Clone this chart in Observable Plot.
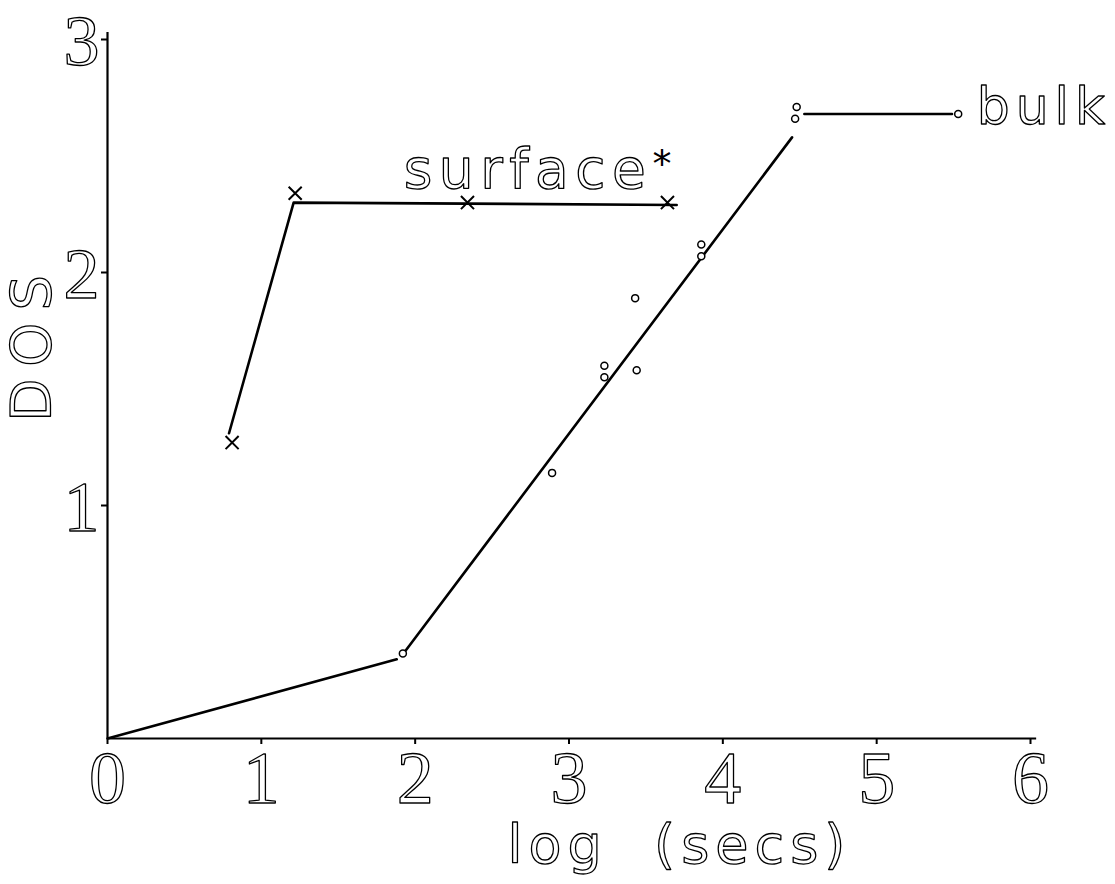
<!DOCTYPE html>
<html><head><meta charset="utf-8">
<script src="https://cdn.jsdelivr.net/npm/d3@7"></script>
<script src="https://cdn.jsdelivr.net/npm/@observablehq/plot@0.6"></script>
<style>body{margin:0;background:#fff}</style>
</head><body><div id="chart"></div>
<script>
// Axis ticks
const xTicks = [0, 1, 2, 3, 4, 5, 6];
const yTicks = [1, 2, 3];

// "surface" series (polyline and its cross markers)
const surfaceLineX = [0.79, 1.21, 3.70];
const surfaceLineY = [1.31, 2.30, 2.29];
const surfaceMarkX = [0.81, 1.22, 2.34, 3.64];
const surfaceMarkY = [1.27, 2.34, 2.30, 2.30];

// "bulk" fitted lines (three segments)
const bulkLineX   = [0, 1.88, 1.93, 4.45, 4.53, 5.49];
const bulkLineY   = [0, 0.34, 0.37, 2.58, 2.68, 2.68];
const bulkLineSeg = [1, 1, 2, 2, 3, 3];

// "bulk" measured points (open circles)
const bulkPtX = [1.92, 2.89, 3.23, 3.23, 3.44, 3.43, 3.86, 3.86, 4.48, 4.47, 5.53];
const bulkPtY = [0.365, 1.14, 1.60, 1.55, 1.58, 1.89, 2.12, 2.07, 2.71, 2.66, 2.68];

const surfaceLine = surfaceLineX.map((x, i) => ({x, y: surfaceLineY[i]}));
const surfaceMarks = surfaceMarkX.map((x, i) => ({x, y: surfaceMarkY[i]}));
const bulkLine = bulkLineX.map((x, i) => ({x, y: bulkLineY[i], s: bulkLineSeg[i]}));
const bulkPts = bulkPtX.map((x, i) => ({x, y: bulkPtY[i]}));

const hollow = {fill: "none", stroke: "black", strokeWidth: 1.3};

const chart = Plot.plot({
  width: 1115, height: 884,
  marginLeft: 107, marginRight: 85, marginTop: 39, marginBottom: 146,
  x: {domain: [0, 6], axis: null},
  y: {domain: [0, 3], axis: null},
  style: {background: "white", overflow: "visible"},
  marks: [
    Plot.ruleY([0], {x1: 0, x2: 6.04, strokeWidth: 2.2}),
    Plot.ruleX([0], {y1: 0, y2: 3.03, strokeWidth: 2.2}),
    Plot.axisX(xTicks, {tickSize: 6, tickFormat: () => "", strokeWidth: 2, label: null}),
    Plot.axisY(yTicks, {tickSize: 6, tickFormat: () => "", strokeWidth: 2, label: null}),
    Plot.text(xTicks, {x: d => d, y: 0, dy: 41, text: d => String(d), fontSize: 74, fontFamily: "Liberation Serif", ...hollow}),
    Plot.text(yTicks, {x: 0, y: d => d, dx: -8, dy: 2, textAnchor: "end", text: d => String(d), fontSize: 72, fontFamily: "Liberation Serif", ...hollow}),
    Plot.text(["DOS"], {x: -0.49, y: 1.70, rotate: -90, text: d => d, fontSize: 56, fontFamily: "DejaVu Sans", ...hollow}),
    Plot.text(["log  (secs)"], {x: 2.6, y: -0.46, textAnchor: "start", text: d => d, fontSize: 54, fontFamily: "DejaVu Sans", ...hollow}),
    Plot.text(["surface*"], {x: 1.925, y: 2.44, textAnchor: "start", text: d => d, fontSize: 55, fontFamily: "DejaVu Sans", ...hollow}),
    Plot.text(["bulk"], {x: 5.65, y: 2.71, textAnchor: "start", text: d => d, fontSize: 52, fontFamily: "DejaVu Sans", ...hollow}),
    Plot.line(surfaceLine, {x: "x", y: "y", stroke: "black", strokeWidth: 2.6}),
    Plot.line(bulkLine, {x: "x", y: "y", z: "s", stroke: "black", strokeWidth: 2.6}),
    Plot.dot(surfaceMarks, {x: "x", y: "y", symbol: "times", r: 6, stroke: "black", strokeWidth: 2}),
    Plot.dot(bulkPts, {x: "x", y: "y", r: 3.5, fill: "white", stroke: "black", strokeWidth: 1.5})
  ]
});
document.getElementById("chart").appendChild(chart);
const sp = {"surface*": "6.5px", "DOS": "12px", "log  (secs)": "6px", "bulk": "6px"};
d3.select(chart).selectAll("text").each(function() {
  const t = this.textContent;
  if (sp[t]) this.style.letterSpacing = sp[t];
  if (t === "surface*") {
    // render the asterisk as a smaller raised superscript of the same label
    const node = this.querySelector("tspan") || this;
    node.textContent = "surface";
    const star = document.createElementNS("http://www.w3.org/2000/svg", "tspan");
    star.textContent = "*\uFE0E";
    star.setAttribute("dy", "-11");
    star.style.fontSize = "38px";
    star.style.fontFamily = "'DejaVu Sans'";
    star.style.fontVariantEmoji = "text";
    star.style.letterSpacing = "0px";
    star.style.fill = "black";
    star.style.stroke = "none";
    node.appendChild(star);
  }
});
</script>
</body></html>
